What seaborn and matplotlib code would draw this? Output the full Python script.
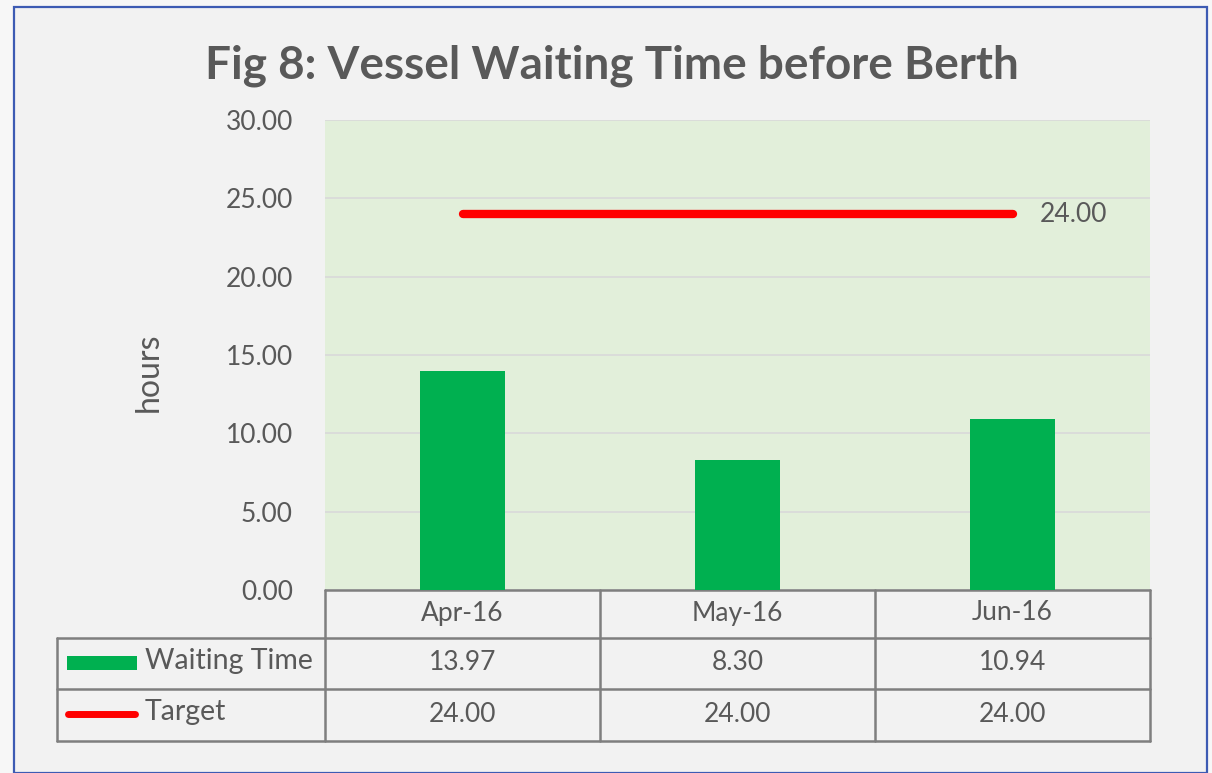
import numpy as np
import pandas as pd
import matplotlib.pyplot as plt
from matplotlib.patches import Rectangle
from matplotlib.lines import Line2D
import seaborn as sns

months = ['Apr-16', 'May-16', 'Jun-16']
waiting = [13.97, 8.30, 10.94]
target = [24.00, 24.00, 24.00]

df = pd.DataFrame({'month': months, 'waiting': waiting, 'target': target})

sns.set_theme(style='white')
plt.rcParams['font.family'] = ['Lato', 'DejaVu Sans']

W, H = 1212, 773
fig = plt.figure(figsize=(W / 100, H / 100), dpi=100, facecolor='#f7f7f7')

# outer chart frame
fig.patches.append(Rectangle((14 / W, 0), (1207 - 14) / W, 1 - 7 / H, transform=fig.transFigure,
                             facecolor='#f2f2f2', edgecolor='#3d5bb3', linewidth=1.6, zorder=-5))

ax = fig.add_axes([325 / W, 1 - 590 / H, (1150 - 325) / W, (590 - 120) / H])
ax.set_facecolor('#e2efda')

grey = '#595959'
fs = 19
sns.barplot(data=df, x='month', y='waiting', color='#00b050', saturation=1, width=0.31, ax=ax,
            zorder=3, linewidth=0, edgecolor='none')
x = np.arange(len(months))
ax.plot(x, df['target'], color='#ff0000', linewidth=6, solid_capstyle='round', zorder=4)
ax.text(x[-1] + 0.1, target[-1], f'{target[-1]:.2f}', va='center', ha='left', fontsize=fs, color=grey)

ax.set_ylim(0, 30)
ax.set_xlim(-0.5, len(months) - 0.5)
ax.set_yticks(np.arange(0, 31, 5))
ax.set_yticklabels([f'{v:.2f}' for v in np.arange(0, 31, 5)], fontsize=fs, color=grey)
ax.tick_params(axis='y', length=0, pad=23)
ax.set_xticks([])
ax.set_xlabel('')
ax.set_ylabel('hours', fontsize=23, color=grey)
ax.yaxis.set_label_coords(-(325 - 164) / 825, (590 - 372) / 470)
ax.grid(axis='y', color='#d9d9d9', linewidth=1.2, zorder=0)
ax.set_axisbelow(True)
for s in ax.spines.values():
    s.set_visible(False)

fig.text(612 / W, 1 - 66 / H, 'Fig 8: Vessel Waiting Time before Berth', ha='center', va='center',
         fontsize=33, fontweight='bold', color=grey)

# data table below the plot (in axes coords)
def ya(py):
    return (590 - py) / (590 - 120)

def xa(px):
    return (px - 325) / (1150 - 325)

tcol = '#7f7f7f'
rows_y = [590, 638, 689, 741]
col_x = [325, 600, 875, 1150]
lw = 1.8
kw = dict(transform=ax.transAxes, clip_on=False, color=tcol, linewidth=lw)
# header row
ax.add_line(Line2D([xa(325), xa(1150)], [ya(590), ya(590)], **kw))
for cx in col_x:
    ax.add_line(Line2D([xa(cx), xa(cx)], [ya(590), ya(741)], **kw))
for ry in rows_y[1:]:
    ax.add_line(Line2D([xa(57), xa(1150)], [ya(ry), ya(ry)], **kw))
ax.add_line(Line2D([xa(57), xa(57)], [ya(638), ya(741)], **kw))

tk = dict(transform=ax.transAxes, ha='center', va='center', fontsize=fs, color=grey, clip_on=False)
for i, m in enumerate(months):
    cxm = xa((col_x[i] + col_x[i + 1]) / 2)
    ax.text(cxm, ya(613), m, **tk)
    ax.text(cxm, ya(662), f'{waiting[i]:.2f}', **tk)
    ax.text(cxm, ya(714), f'{target[i]:.2f}', **tk)

ax.add_patch(Rectangle((xa(67), ya(670)), xa(137) - xa(67), ya(656) - ya(670), transform=ax.transAxes,
                       facecolor='#00b050', edgecolor='none', clip_on=False))
ax.add_line(Line2D([xa(68), xa(135)], [ya(714), ya(714)], transform=ax.transAxes, clip_on=False,
                   color='#ff0000', linewidth=5, solid_capstyle='round'))
ax.text(xa(145), ya(661), 'Waiting Time', transform=ax.transAxes, ha='left', va='center',
        fontsize=20.5, color=grey, clip_on=False)
ax.text(xa(145), ya(712), 'Target', transform=ax.transAxes, ha='left', va='center',
        fontsize=20.5, color=grey, clip_on=False)

fig.savefig('out.png', dpi=100, facecolor=fig.get_facecolor())
